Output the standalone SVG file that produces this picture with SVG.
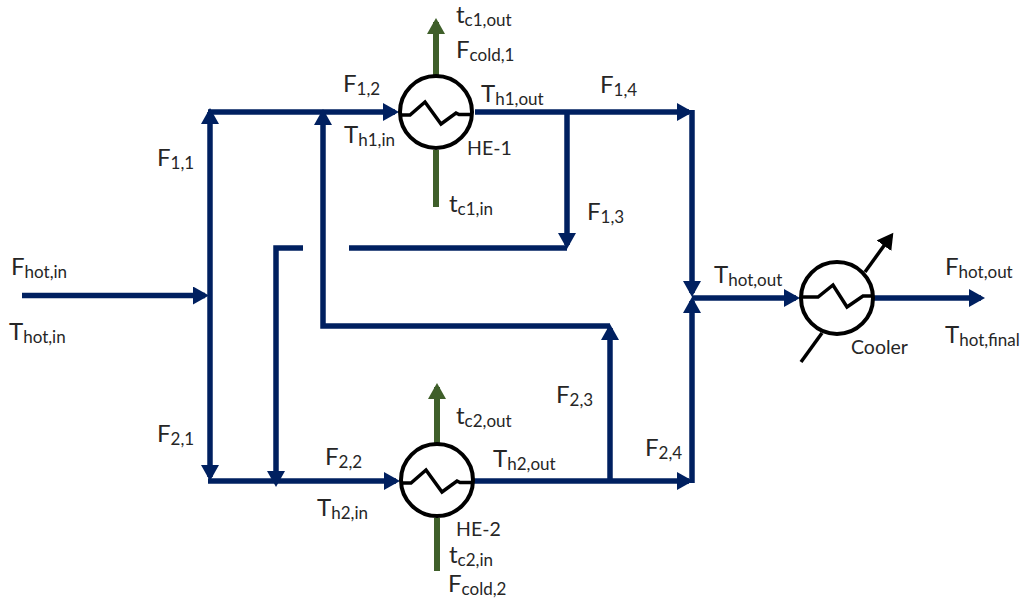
<svg xmlns="http://www.w3.org/2000/svg" width="1021" height="599" viewBox="0 0 1021 599">
<style>
text{font-family:"Lato","Open Sans","Liberation Sans",sans-serif;font-size:24px;fill:#262626}
tspan{font-size:17px}
.n{font-size:19.500px}
.h{fill:none;stroke:#002060;stroke-width:5.500}
.g{fill:none;stroke:#3f5f2a;stroke-width:6}
.k{fill:none;stroke:#000;stroke-width:3.500}
.z{fill:none;stroke:#000;stroke-width:3.500}
.c{fill:#fff;stroke:#000;stroke-width:4}
</style>
<defs>
<marker id="ah" markerUnits="userSpaceOnUse" markerWidth="18" markerHeight="18" refX="12" refY="9" orient="auto"><path d="M0 0L16 9L0 18Z" fill="#002060"/></marker>
<marker id="ag" markerUnits="userSpaceOnUse" markerWidth="18" markerHeight="18" refX="12" refY="9" orient="auto"><path d="M0 0L16 9L0 18Z" fill="#3f5f2a"/></marker>
<marker id="ak" markerUnits="userSpaceOnUse" markerWidth="18" markerHeight="18" refX="12" refY="9" orient="auto"><path d="M0 0L16 9L0 18Z" fill="#000"/></marker>
</defs>
<g id="connectors">
<path class="h" marker-end="url(#ah)" d="M22 295.500H205"/>
<path class="h" marker-end="url(#ah)" d="M210 295V112"/>
<path class="h" marker-end="url(#ah)" d="M210 295V477"/>
<path class="h" marker-end="url(#ah)" d="M208 112H395"/>
<path class="h" marker-end="url(#ah)" d="M475 112H689"/>
<path class="h" marker-end="url(#ah)" d="M567 112V245"/>
<path class="h" d="M349 248H567"/>
<path class="h" marker-end="url(#ah)" d="M303 248H276V483"/>
<path class="h" marker-end="url(#ah)" d="M610 481V328"/>
<path class="h" marker-end="url(#ah)" d="M610 326H323V113"/>
<path class="h" marker-end="url(#ah)" d="M208 481H396"/>
<path class="h" marker-end="url(#ah)" d="M474 481H689"/>
<path class="h" marker-end="url(#ah)" d="M692 110V293"/>
<path class="h" marker-end="url(#ah)" d="M692 483V301"/>
<path class="h" marker-end="url(#ah)" d="M692 298H796"/>
<path class="h" marker-end="url(#ah)" d="M874 298H981"/>
<path class="g" marker-end="url(#ag)" d="M436 75V22"/>
<path class="g" d="M436 150V207"/>
<path class="g" marker-end="url(#ag)" d="M437 443V387"/>
<path class="g" d="M437 518V571"/>
<path class="k" marker-end="url(#ak)" d="M865 272L891 236"/>
<path class="k" d="M822 333L801 362"/>
</g>
<g id="he1">
<circle class="c" cx="436" cy="112" r="36"/>
<path class="z" d="M400 115H410L425 102L441 124L456 113L459 114.500H472"/>
<text x="467" y="155" class="n">HE-1</text>
</g>
<g id="he2">
<circle class="c" cx="437" cy="480" r="36"/>
<path class="z" d="M401 483H411L426 470L442 492L457 481L460 482.500H473"/>
<text x="456" y="536" class="n">HE-2</text>
</g>
<g id="cooler">
<circle class="c" cx="837" cy="298" r="36"/>
<path class="z" d="M802 297H818L833 285L847 307L863 296H874"/>
<text x="851" y="354" class="n">Cooler</text>
</g>
<g id="labels">
<text x="456" y="23">t<tspan dy="3">c1,out</tspan></text>
<text x="456" y="58">F<tspan dy="3">cold,1</tspan></text>
<text x="343" y="92">F<tspan dy="3">1,2</tspan></text>
<text x="481" y="102">T<tspan dy="3">h1,out</tspan></text>
<text x="344" y="143">T<tspan dy="3">h1,in</tspan></text>
<text x="449" y="212">t<tspan dy="3">c1,in</tspan></text>
<text x="600" y="93">F<tspan dy="3">1,4</tspan></text>
<text x="587" y="220">F<tspan dy="3">1,3</tspan></text>
<text x="157" y="166">F<tspan dy="3">1,1</tspan></text>
<text x="11" y="275">F<tspan dy="3">hot,in</tspan></text>
<text x="9" y="340">T<tspan dy="3">hot,in</tspan></text>
<text x="157" y="442">F<tspan dy="3">2,1</tspan></text>
<text x="325" y="465">F<tspan dy="3">2,2</tspan></text>
<text x="317" y="516">T<tspan dy="3">h2,in</tspan></text>
<text x="493" y="467">T<tspan dy="3">h2,out</tspan></text>
<text x="456" y="424">t<tspan dy="3">c2,out</tspan></text>
<text x="449" y="563">t<tspan dy="3">c2,in</tspan></text>
<text x="448" y="592">F<tspan dy="3">cold,2</tspan></text>
<text x="556" y="403">F<tspan dy="3">2,3</tspan></text>
<text x="645" y="456">F<tspan dy="3">2,4</tspan></text>
<text x="714" y="283">T<tspan dy="3">hot,out</tspan></text>
<text x="945" y="275">F<tspan dy="3">hot,out</tspan></text>
<text x="945" y="343">T<tspan dy="3">hot,final</tspan></text>
</g>
</svg>
